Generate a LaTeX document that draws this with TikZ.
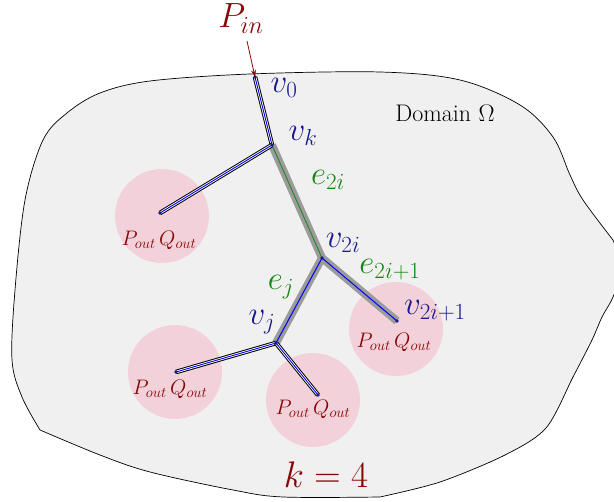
\RequirePackage{fix-cm}
\documentclass[tikz,border=0pt]{standalone}
\usetikzlibrary{arrows.meta}
\definecolor{vblue}{RGB}{25,25,140}
\definecolor{egreen}{RGB}{20,135,20}
\definecolor{dred}{RGB}{135,5,5}
\definecolor{domfill}{RGB}{240,240,240}
\definecolor{pinkc}{RGB}{243,209,218}
\definecolor{pgray}{RGB}{155,155,155}
\tikzset{
  pipe/.style={draw=blue, line width=0.9pt, preaction={draw=black, line width=4.6pt}, preaction={draw=white, line width=2.6pt}},
  graypipe/.style={draw=pgray, line width=8pt},
  coregreen/.style={draw=egreen, line width=0.8pt},
  coreblue/.style={draw=blue, line width=1pt},
  vdot/.style={circle, fill=vblue, inner sep=0pt, minimum size=3.8pt},
  vlab/.style={text=vblue, font=\fontsize{33}{36}\selectfont, inner sep=0pt},
  elab/.style={text=egreen, font=\fontsize{33}{36}\selectfont, inner sep=0pt},
  outlab/.style={text=dred, font=\fontsize{21}{24}\selectfont, inner sep=0pt},
  sink/.style={circle, fill=pinkc, minimum size=94pt, inner sep=0pt}
}
\begin{document}
\begin{tikzpicture}[x=1pt,y=-1pt]
\useasboundingbox (0,0) rectangle (614,502);
% domain
\draw[fill=domfill, line width=0.7pt]
  plot[smooth, tension=0.55] coordinates {(40,430) (22,397) (12,360) (15,290) (25,200) (43,140) (67,113) (100,93) (150,81) (250,74) (380,72) (460,80) (520,105) (553,137) (570,175) (583,200) (613,240)}
  -- plot[smooth, tension=0.5] coordinates {(613,240) (622,268) (613,297) (602,317) (592,340) (573,377) (546,428) (505,455) (440,482) (380,497)}
  -- plot[smooth, tension=0.55] coordinates {(380,497) (283,497) (233,490) (150,472) (100,455) (40,430)};
% sinks
\node[sink] (s1) at (162,216) {};
\node[sink] (s2) at (396,329) {};
\node[sink] (s3) at (175,372) {};
\node[sink] (s4) at (313,400) {};
% vertices
\coordinate (v0) at (255,77);
\coordinate (vk) at (272,145);
\coordinate (l1) at (160,213);
\coordinate (v2i) at (322,258);
\coordinate (v2ip) at (397,321);
\coordinate (vj) at (276,343);
\coordinate (l3) at (176,372);
\coordinate (l4) at (318,395);
% thick gray edges
\draw[graypipe] (vk) -- (v2i) -- (vj);
\draw[graypipe] (v2i) -- (v2ip);
\draw[coregreen] (vk) -- (v2i);
\draw[coreblue] (v2i) -- (vj);
\draw[coreblue] (v2i) -- (v2ip);
% pipes
\draw[pipe] (v0) -- (vk);
\draw[pipe] (vk) -- (l1);
\draw[pipe] (vj) -- (l3);
\draw[pipe] (vj) -- (l4);
% dots
\foreach \p in {v0,vk,l1,v2i,v2ip,vj,l3,l4} \node[vdot] at (\p) {};
% labels
\node[text=dred, font=\fontsize{35}{38}\selectfont, inner sep=0pt, anchor=base] (pin) at (241,28) {$P_{in}$};
\draw[-{Stealth[length=7pt,width=5pt]}, dred, line width=0.8pt] (247,41) -- (v0);
\node[vlab] (lv0) at (284,88) {$v_0$};
\node[vlab] (lvk) at (303,136) {$v_k$};
\node[elab] (le2i) at (328,180) {$e_{2i}$};
\node[vlab] (lv2i) at (343,243) {$v_{2i}$};
\node[elab] (le2ip) at (390,270) {$e_{2i+1}$};
\node[vlab] (lv2ip) at (435,311) {$v_{2i+1}$};
\node[elab] (lej) at (281,287) {$e_j$};
\node[vlab] (lvj) at (262,322) {$v_j$};
\node[font=\fontsize{24}{27}\selectfont, inner sep=0pt] (dom) at (445,113) {Domain $\Omega$};
\node[outlab] (o1) at (159,240) {$P_{out}\,Q_{out}$};
\node[outlab] (o2) at (394,342) {$P_{out}\,Q_{out}$};
\node[outlab] (o3) at (170,389) {$P_{out}\,Q_{out}$};
\node[outlab] (o4) at (313,409) {$P_{out}\,Q_{out}$};
\node[text=dred, font=\fontsize{37}{40}\selectfont, inner sep=0pt] (k4) at (326,475) {$k=4$};
\end{tikzpicture}
\end{document}
